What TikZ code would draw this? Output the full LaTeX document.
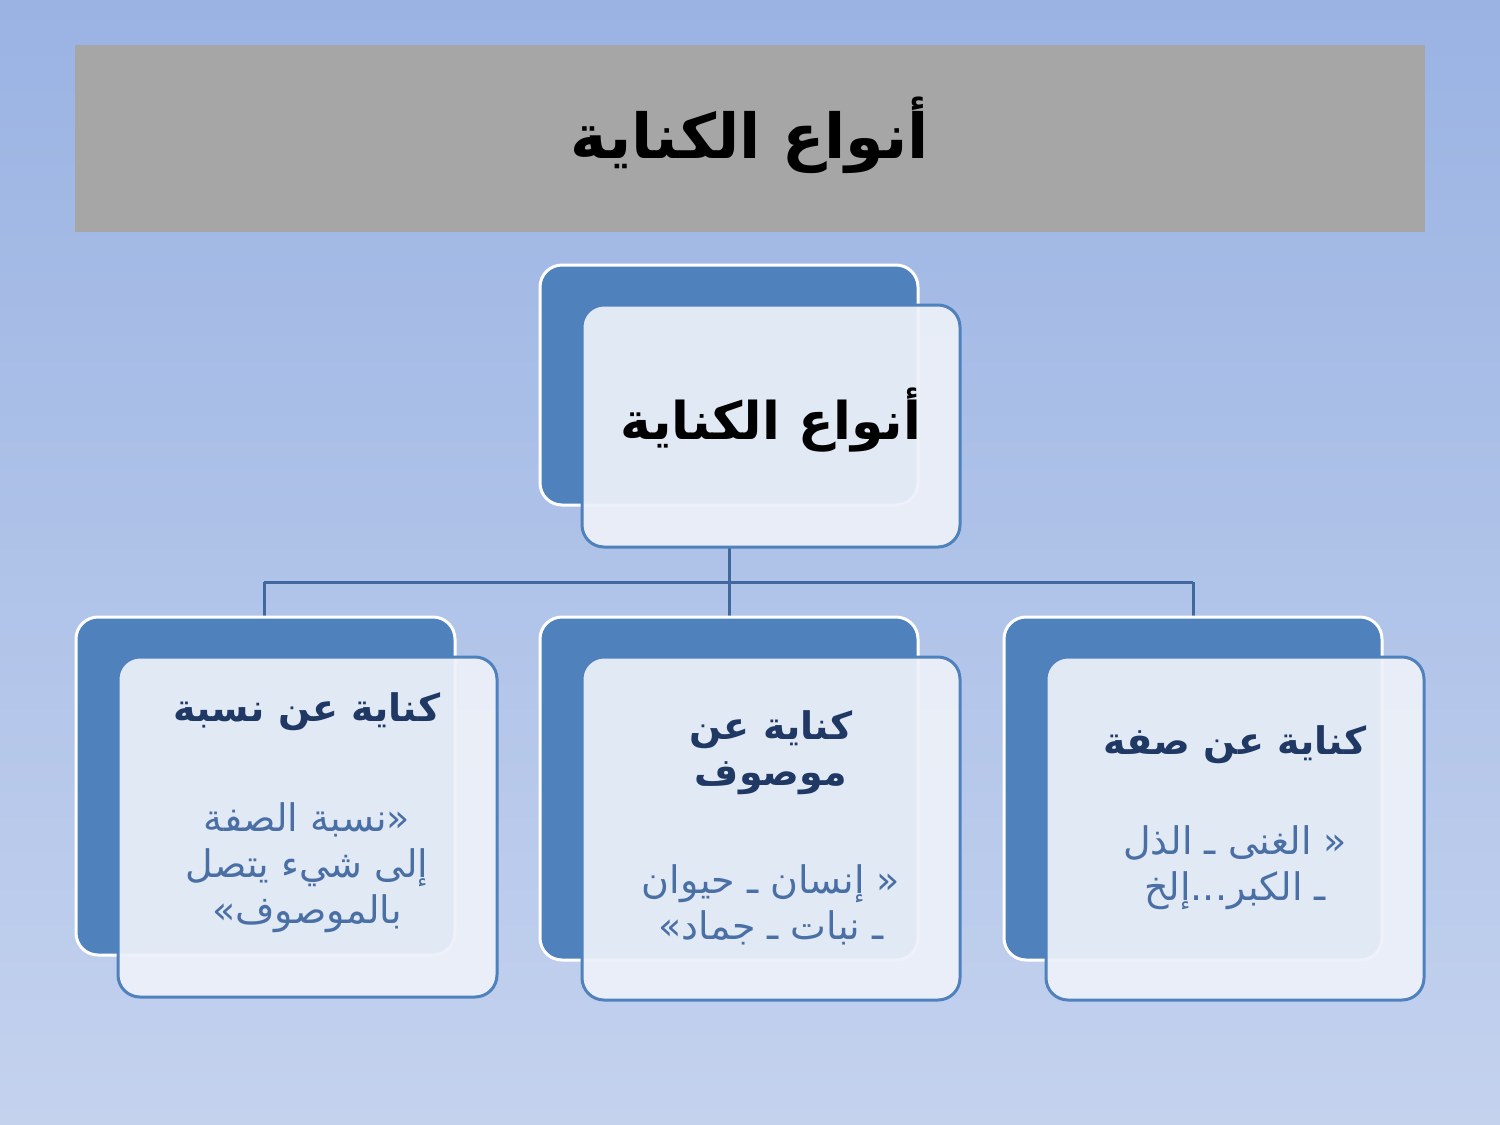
\documentclass[tikz,border=0pt]{standalone}
\usepackage{fontspec}
\TeXXeTstate=1
\newfontfamily\arabicfont[Script=Arabic]{DejaVu Sans}
\definecolor{bgtop}{HTML}{9AB3E3}
\definecolor{bgbot}{HTML}{C4D2EE}
\definecolor{blu}{HTML}{4F81BD}
\definecolor{frontc}{HTML}{EDF1F9}
\definecolor{line}{HTML}{41689E}
\definecolor{head}{HTML}{1F3864}
\definecolor{body}{HTML}{4A6FA5}
\tikzset{
 backbox/.style={fill=blu,draw=white,line width=3pt,rounded corners=22pt},
 frontbox/.style={fill=frontc,fill opacity=0.93,draw=blu,line width=3pt,rounded corners=22pt},
 conn/.style={draw=line,line width=3pt},
 headt/.style={text=head,font=\arabicfont\bfseries\fontsize{38}{46}\selectfont,align=center},
 bodyt/.style={text=body,font=\arabicfont\fontsize{38}{46}\selectfont,align=center},
}
\begin{document}
\begin{tikzpicture}[x=1pt,y=-1pt]
\shade[top color=bgtop,bottom color=bgbot] (0,0) rectangle (1500,1125);
\useasboundingbox (0,0) rectangle (1500,1125);
\fill[fill={rgb,255:red,166;green,166;blue,166}] (75,45) rectangle (1425,232);
\node[font=\arabicfont\bfseries\fontsize{62}{70}\selectfont] (title) at (750,135) {\beginR أنواع الكناية\endR};
% connectors
\coordinate (j) at (729,582);
\coordinate (jl) at (264,582);
\coordinate (jr) at (1193,582);
\draw[conn] (729,547) -- (j);
\draw[conn] (jl) -- (jr);
\draw[conn] (jl) -- (264,617);
\draw[conn] (j) -- (729,617);
\draw[conn] (jr) -- (1193,617);
% top
\draw[backbox] (540,265) rectangle (918,505);
\draw[frontbox] (582,305) rectangle (960,547);
\node[font=\arabicfont\bfseries\fontsize{52}{60}\selectfont] (top) at (771,420) {\beginR أنواع الكناية\endR};
% left
\draw[backbox] (76,617) rectangle (455,955);
\draw[frontbox] (118,657) rectangle (497,997);
\node[headt] (lh) at (307,712) {\beginR كناية عن نسبة\endR};
\node[bodyt] (lb) at (307,868) {\beginR «نسبة الصفة\endR\\\beginR إلى شيء يتصل\endR\\\beginR بالموصوف»\endR};
% middle
\draw[backbox] (540,617) rectangle (918,960);
\draw[frontbox] (582,657) rectangle (960,1000);
\node[headt,text depth=0pt] (mh) at (771,748) {\beginR كناية عن\endR\\\beginR موصوف\endR};
\node[bodyt] (mb) at (771,905) {\beginR « إنسان ـ حيوان\endR\\\beginR ـ نبات ـ جماد»\endR};
% right
\draw[backbox] (1004,617) rectangle (1382,960);
\draw[frontbox] (1046,657) rectangle (1424,1000);
\node[headt] (rh) at (1235,745) {\beginR كناية عن صفة\endR};
\node[bodyt] (rb) at (1235,868) {\beginR « الغنى ـ الذل\endR\\\beginR ـ الكبر...إلخ\endR};
\end{tikzpicture}
\end{document}
